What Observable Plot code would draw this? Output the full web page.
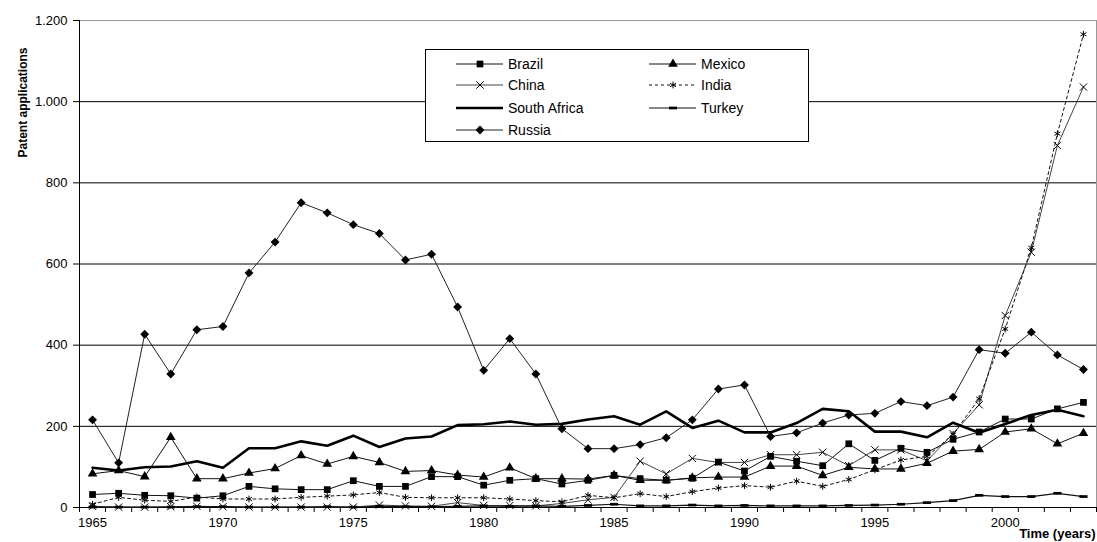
<!DOCTYPE html>
<html><head><meta charset="utf-8">
<script src="https://cdn.jsdelivr.net/npm/d3@7"></script>
<script src="https://cdn.jsdelivr.net/npm/@observablehq/plot@0.6"></script>
<style>
body{margin:0;background:#fff;font-family:"Liberation Sans",Arial,sans-serif}
#wrap{position:relative;width:1097px;height:542px;overflow:hidden}
#legend{position:absolute;left:425px;top:49px;width:384px;height:93px;background:#fff;border:1px solid #000;box-sizing:border-box}
.item{position:absolute;height:16px;display:flex;align-items:center;font-size:14px;color:#000;white-space:nowrap}
.item svg{margin-right:4px}
</style></head><body><div id="wrap"><div id="legend"></div></div>
<script>
const years = d3.range(1965, 2004);
const countries = ["Brazil","Mexico","China","India","South Africa","Turkey","Russia"];
const brazil = [32,35,30,29,23,29,52,46,44,44,66,52,52,76,76,55,67,71,58,67,79,71,67,72,112,90,126,114,103,157,116,146,136,168,186,218,218,243,259];
const mexico = [83,91,76,173,71,71,85,96,128,107,126,111,89,91,80,75,98,71,71,70,79,67,67,73,75,75,102,102,79,99,95,95,109,139,143,186,194,157,183];
const china = [3,1,1,2,3,2,1,1,1,1,1,6,4,3,12,5,5,4,10,19,25,114,83,121,111,111,130,130,136,103,142,142,115,182,253,473,629,892,1036];
const india = [8,25,18,15,26,21,21,21,25,28,31,37,25,24,24,24,21,17,14,30,24,34,27,39,48,54,50,65,52,69,93,117,126,180,268,440,640,921,1166];
const southAfrica = [98,91,99,101,114,98,146,146,163,152,177,149,170,175,203,205,212,204,206,217,225,204,237,196,214,185,185,208,243,237,187,187,173,209,184,206,228,241,225];
const turkey = [1,1,1,1,2,2,1,1,1,2,1,3,2,2,3,4,3,4,3,5,8,4,4,6,4,5,4,4,4,5,6,8,12,17,30,27,27,35,27];
const russia = [216,110,427,329,438,446,578,654,751,726,697,675,610,624,494,338,416,329,194,145,145,155,172,216,292,302,175,184,208,228,232,261,251,272,389,380,432,376,340];
const yTicks = [0,200,400,600,800,1000,1200];
const xLabels = [1965,1970,1975,1980,1985,1990,1995,2000];

const valuesBy = {"Brazil":brazil,"Mexico":mexico,"China":china,"India":india,"South Africa":southAfrica,"Turkey":turkey,"Russia":russia};

const dash = {draw(ctx, size){ const r = Math.sqrt(size/Math.PI); ctx.rect(-r*1.2, -r*0.4, r*2.4, r*0.8); }};
const styles = {
  "Brazil":{stroke:"#111",sw:1,dashArr:null,symbol:"square",r:3.8,filled:true},
  "Mexico":{stroke:"#111",sw:1,dashArr:null,symbol:"triangle",r:3.6,filled:true},
  "China":{stroke:"#444",sw:1,dashArr:null,symbol:"times",r:3.4,filled:false},
  "India":{stroke:"#111",sw:1,dashArr:"3,3",symbol:"asterisk",r:3.2,filled:false},
  "South Africa":{stroke:"#000",sw:2.6,dashArr:null,symbol:null},
  "Turkey":{stroke:"#111",sw:1.2,dashArr:null,symbol:dash,r:3.4,filled:true},
  "Russia":{stroke:"#222",sw:1,dashArr:null,symbol:"diamond2",r:4,filled:true}
};

const rows = countries.flatMap(c => valuesBy[c].map((v,i) => ({country:c, year:years[i], value:v})));

const fmt = d => d3.format(",")(d).replace(/,/g, ".");

const marks = [
  Plot.gridY([200,400,600,800,1000], {stroke:"#000", strokeOpacity:1}),
  Plot.ruleY([1200], {stroke:"#999"}),
  Plot.ruleX([2003.5], {stroke:"#999"}),
  Plot.axisY({ticks:yTicks, tickFormat:fmt, tickSize:6, tickPadding:6, fontSize:13, label:null}),
  Plot.axisX({ticks:d3.range(1964.5, 2004, 1), tickSize:5, tickFormat:()=>"", label:null}),
  Plot.axisX({ticks:xLabels, tickSize:0, tickPadding:10, tickFormat:d=>String(d), fontSize:13, label:null}),
  Plot.ruleY([0], {stroke:"#000"}),
  Plot.ruleX([1964.5], {stroke:"#000"})
];
for (const c of countries) {
  const s = styles[c];
  const data = rows.filter(d => d.country === c);
  marks.push(Plot.line(data, {x:"year", y:"value", stroke:s.stroke, strokeWidth:s.sw, strokeDasharray:s.dashArr, curve:"linear"}));
}
for (const c of countries) {
  const s = styles[c];
  if (!s.symbol) continue;
  const data = rows.filter(d => d.country === c);
  marks.push(Plot.dot(data, {x:"year", y:"value", symbol:s.symbol, r:s.r,
    fill: s.filled ? "#000" : "none", stroke: s.filled ? "none" : "#000", strokeWidth:1}));
}
marks.push(Plot.text(["Patent applications"], {frameAnchor:"top-left", dx:-56, dy:82, rotate:-90, fontWeight:"bold", fontSize:12, textAnchor:"middle", lineAnchor:"middle"}));
marks.push(Plot.text(["Time (years)"], {frameAnchor:"bottom-right", dx:-1, dy:30, fontWeight:"bold", fontSize:13, textAnchor:"end", lineAnchor:"bottom"}));

const chart = Plot.plot({
  width:1097, height:542,
  marginLeft:79, marginRight:1, marginTop:20, marginBottom:35,
  style:{fontFamily:"Liberation Sans, Arial, sans-serif", fontSize:"12px", color:"#000", background:"#fff"},
  x:{type:"linear", domain:[1964.5, 2003.5]},
  y:{domain:[0,1200]},
  marks
});
const wrap = document.getElementById("wrap");
wrap.insertBefore(chart, wrap.firstChild);

// legend
const legend = document.getElementById("legend");
const pos = {
  "Brazil":[30,14], "Mexico":[223,14],
  "China":[30,35], "India":[223,35],
  "South Africa":[30,58], "Turkey":[223,58],
  "Russia":[30,80]
};
const symMap = {square:d3.symbolSquare, triangle:d3.symbolTriangle, times:d3.symbolTimes, asterisk:d3.symbolAsterisk, diamond2:d3.symbolDiamond2};
for (const c of countries) {
  const s = styles[c];
  const [lx, ly] = pos[c];
  const div = document.createElement("div");
  div.className = "item";
  div.style.left = lx + "px";
  div.style.top = (ly - 8) + "px";
  const svg = d3.create("svg").attr("width", 48).attr("height", 14);
  svg.append("line").attr("x1",0).attr("x2",47).attr("y1",7).attr("y2",7)
    .attr("stroke", s.stroke).attr("stroke-width", s.sw).attr("stroke-dasharray", s.dashArr);
  if (s.symbol) {
    const type = typeof s.symbol === "string" ? symMap[s.symbol] : s.symbol;
    svg.append("path").attr("transform","translate(24,7)")
      .attr("d", d3.symbol(type, Math.PI*s.r*s.r)())
      .attr("fill", s.filled ? "#000" : "none").attr("stroke", s.filled ? "none" : "#000");
  }
  div.appendChild(svg.node());
  const span = document.createElement("span");
  span.textContent = c;
  div.appendChild(span);
  legend.appendChild(div);
}
</script>
</body></html>
